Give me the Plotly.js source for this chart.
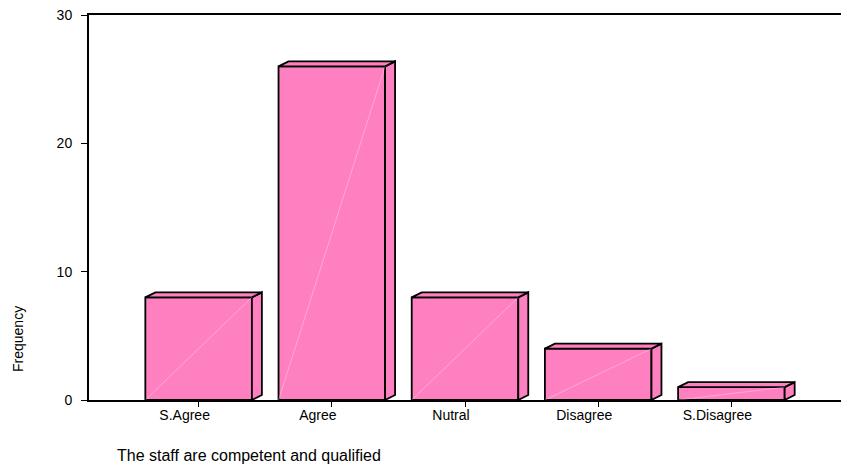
<!DOCTYPE html>
<html>
<head>
<meta charset="utf-8">
<script src="https://cdn.plot.ly/plotly-3.0.1.min.js"></script>
<style>
  html, body { margin: 0; padding: 0; background: #fff; }
  #chart { width: 841px; height: 476px; }
</style>
</head>
<body>
<div id="chart"></div>
<script>
// Response counts for "The staff are competent and qualified"
const categories = ['S.Agree', 'Agree', 'Nutral', 'Disagree', 'S.Disagree'];
const frequency = [8, 26, 8, 4, 1];
const yTicks = [0, 10, 20, 30];

// Bar geometry in axis units
const barWidth = 0.8;
const depthX = 0.075;   // pseudo-3D depth along x
const depthY = 0.39;    // pseudo-3D depth along y
const labelShift = 0.105;

const pink = '#FF80C0';
const pos = categories.map((_, i) => i);
const half = barWidth / 2;

// Right side faces and top faces, one closed polygon per bar
const sideX = [], sideY = [], topX = [], topY = [], diagX = [], diagY = [];
pos.forEach((p, i) => {
  const v = frequency[i];
  const r = p + half, l = p - half;
  sideX.push(r, r + depthX, r + depthX, r, r, null);
  sideY.push(0, depthY, v + depthY, v, 0, null);
  topX.push(l, l + depthX, r + depthX, r, l, null);
  topY.push(v, v + depthY, v + depthY, v, v, null);
  diagX.push(l, r, null);
  diagY.push(0, v, null);
});

const outline = { color: '#000', width: 1.8 };

const traces = [
  {
    type: 'scatter', mode: 'lines', x: sideX, y: sideY,
    fill: 'toself', fillcolor: pink,
    line: outline, hoverinfo: 'skip', showlegend: false
  },
  {
    type: 'scatter', mode: 'lines', x: topX, y: topY,
    fill: 'toself', fillcolor: pink,
    line: outline, hoverinfo: 'skip', showlegend: false
  },
  {
    type: 'bar', x: pos, y: frequency, width: barWidth,
    marker: { color: pink, line: outline },
    hoverinfo: 'skip', showlegend: false
  },
  {
    type: 'scatter', mode: 'lines', x: diagX, y: diagY,
    line: { color: 'rgba(255,255,255,0.4)', width: 0.8 },
    hoverinfo: 'skip', showlegend: false
  },
  // Empty trace so the label axis is drawn
  {
    type: 'scatter', x: [], y: [], xaxis: 'x2', yaxis: 'y',
    hoverinfo: 'skip', showlegend: false
  }
];

const xRange = [-0.823, 4.823];
const family = 'Liberation Sans, Arial, sans-serif';

const layout = {
  width: 841, height: 476,
  margin: { l: 89, r: 0, t: 15, b: 76 },
  paper_bgcolor: '#fff', plot_bgcolor: '#fff',
  font: { family: family, color: '#000' },
  title: {
    text: 'The staff are competent and qualified',
    font: { family: family, size: 16, color: '#000' },
    x: 117 / 841, xanchor: 'left', xref: 'container',
    y: 1 - 455 / 476, yanchor: 'middle', yref: 'container'
  },
  xaxis: {
    range: xRange, showgrid: false, zeroline: false,
    tickvals: pos, showticklabels: false,
    ticks: 'outside', ticklen: 5, tickwidth: 1, tickcolor: '#000',
    showline: true, linecolor: '#000', linewidth: 2, mirror: true
  },
  // Category labels sit slightly left of their tick marks
  xaxis2: {
    range: xRange, overlaying: 'x', anchor: 'y', side: 'bottom',
    showgrid: false, zeroline: false, showline: false, ticks: '',
    tickvals: pos.map(p => p - labelShift), ticktext: categories,
    ticklabelstandoff: 5,
    tickfont: { family: family, size: 14, color: '#000' }
  },
  yaxis: {
    range: [0, 30], showgrid: false, zeroline: false,
    tickvals: yTicks, ticktext: yTicks.map(String),
    ticks: 'outside', ticklen: 6, tickwidth: 1, tickcolor: '#000',
    ticklabelstandoff: 6,
    tickfont: { family: family, size: 14, color: '#000' },
    showline: true, linecolor: '#000', linewidth: 2
  },
  annotations: [{
    text: 'Frequency', textangle: -90, showarrow: false,
    xref: 'paper', yref: 'paper',
    x: (18 - 89) / 752, y: (400 - 339) / 385,
    xanchor: 'center', yanchor: 'middle',
    font: { family: family, size: 14, color: '#000' }
  }]
};

Plotly.newPlot('chart', traces, layout, { displayModeBar: false, staticPlot: true });
</script>
</body>
</html>
